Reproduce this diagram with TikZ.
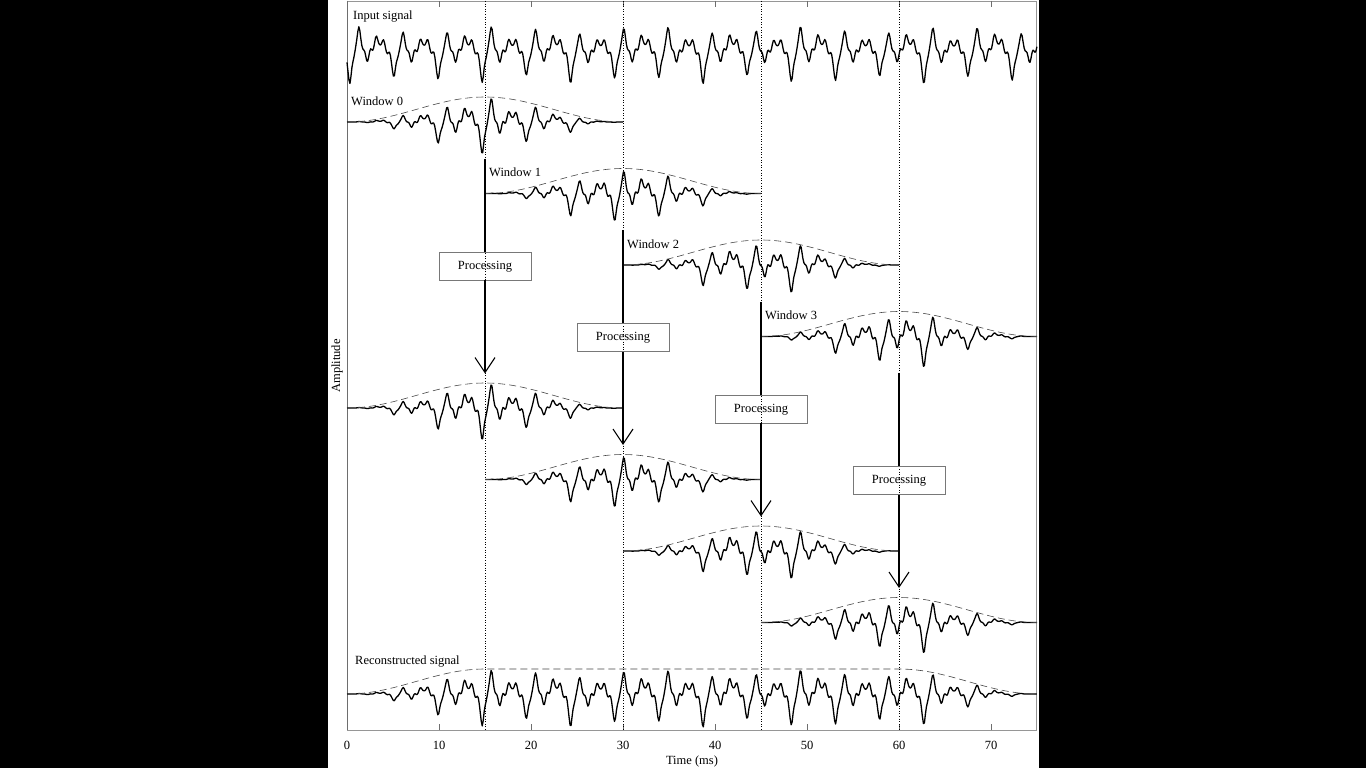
\documentclass[tikz,border=0pt]{standalone}
\usepackage{fontspec}
\setmainfont{Liberation Serif}
\usepackage{tikz}
\usetikzlibrary{arrows.meta, positioning, calc}
\definecolor{axisgray}{RGB}{150,150,150}
\definecolor{axisdark}{RGB}{110,110,110}
\definecolor{envgray}{RGB}{70,70,70}
\definecolor{boxgray}{RGB}{120,120,120}

\begin{document}
\begin{tikzpicture}[x=1pt, y=-1pt, >=Latex,
    declare function={
        lor(\xa,\xb)=1/(1+((\xa-round(\xa))/\xb)^2);
        ph(\xa)=(\xa-0.33)/4.8;
        fr(\xa)=ph(\xa)-floor(ph(\xa));
        sig(\xa)=-30*(1+0.15*sin(29*\xa+70))*lor(ph(\xa),0.05)+24*(1+0.15*sin(53*\xa))*lor(ph(\xa)-0.2,0.055)-10*lor(ph(\xa)-0.38,0.06)+13*(1+0.3*sin(37*\xa+40))*lor(ph(\xa)-0.6,0.06)+11*lor(ph(\xa)-0.75,0.05)+1.8*sin(2520*fr(\xa))+1.3*sin(3240*fr(\xa)+50)-1.7;
        hann(\xa,\xb)=sin(6*(\xa-\xb))^2;
        recw(\xa)=ifthenelse(\xa<15, sin(6*\xa)^2, ifthenelse(\xa>60, sin(6*(\xa-45))^2, 1));
    },
    wave/.style={line width=1.3pt, line join=round},
    envelope/.style={envgray, line width=0.6pt, dash pattern=on 7pt off 4pt},
    sigtext/.style={font=\fontsize{12.5}{15}\selectfont, inner sep=0pt},
    procbox/.style={draw=boxgray, line width=0.7pt, minimum width=92pt, minimum height=28pt, inner sep=0pt, text height=9pt, text depth=3pt, font=\fontsize{12.5}{15}\selectfont},
    flow/.style={line width=1.1pt},
]
    \fill[black] (0,0) rectangle (1366,768);
    \fill[white] (328,0) rectangle (1039,768);

    \draw[axisgray, line width=0.6pt] (347,1) rectangle (1036.7,730);
    \draw[axisdark, line width=0.7pt] (347,1) -- (347,730);
    \foreach \k in {0,...,7} {
        \draw[axisdark, line width=0.6pt] (347+92*\k,730) -- (347+92*\k,724);
        \draw[axisdark, line width=0.6pt] (347+92*\k,1) -- (347+92*\k,7);
        \node[sigtext] at (347+92*\k,745) {\pgfmathparse{int(10*\k)}\pgfmathresult};
    }
    \node[sigtext] at (692,761) {Time (ms)};
    \node[sigtext, rotate=90] at (337,366) {Amplitude};

    \draw[dotted, line width=0.6pt] (485,1) -- (485,730);
    \draw[dotted, line width=0.6pt] (623,1) -- (623,730);
    \draw[dotted, line width=0.6pt] (761,1) -- (761,730);
    \draw[dotted, line width=0.6pt] (899,1) -- (899,730);

    \draw[wave] plot[domain=0:75, samples=700] ({347+9.2*\x}, {50.5-sig(\x)});
    \node[sigtext, anchor=base west] at (353,20) {Input signal};

    \draw[wave] plot[domain=0:30, samples=300] ({347+9.2*\x}, {122-hann(\x,0)*sig(\x)});
    \draw[envelope] plot[domain=0:30, samples=60] ({347+9.2*\x}, {122-25*hann(\x,0)});
    \node[sigtext, anchor=base west] at (351,105) {Window 0};

    \draw[wave] plot[domain=15:45, samples=300] ({347+9.2*\x}, {193.5-hann(\x,15)*sig(\x)});
    \draw[envelope] plot[domain=15:45, samples=60] ({347+9.2*\x}, {193.5-25*hann(\x,15)});
    \node[sigtext, anchor=base west] at (489,176.5) {Window 1};

    \draw[wave] plot[domain=30:60, samples=300] ({347+9.2*\x}, {265-hann(\x,30)*sig(\x)});
    \draw[envelope] plot[domain=30:60, samples=60] ({347+9.2*\x}, {265-25*hann(\x,30)});
    \node[sigtext, anchor=base west] at (627,248) {Window 2};

    \draw[wave] plot[domain=45:75, samples=300] ({347+9.2*\x}, {336.5-hann(\x,45)*sig(\x)});
    \draw[envelope] plot[domain=45:75, samples=60] ({347+9.2*\x}, {336.5-25*hann(\x,45)});
    \node[sigtext, anchor=base west] at (765,319.5) {Window 3};

    \draw[wave] plot[domain=0:30, samples=300] ({347+9.2*\x}, {408-hann(\x,0)*sig(\x)});
    \draw[envelope] plot[domain=0:30, samples=60] ({347+9.2*\x}, {408-25*hann(\x,0)});

    \draw[wave] plot[domain=15:45, samples=300] ({347+9.2*\x}, {479.5-hann(\x,15)*sig(\x)});
    \draw[envelope] plot[domain=15:45, samples=60] ({347+9.2*\x}, {479.5-25*hann(\x,15)});

    \draw[wave] plot[domain=30:60, samples=300] ({347+9.2*\x}, {551-hann(\x,30)*sig(\x)});
    \draw[envelope] plot[domain=30:60, samples=60] ({347+9.2*\x}, {551-25*hann(\x,30)});

    \draw[wave] plot[domain=45:75, samples=300] ({347+9.2*\x}, {622.5-hann(\x,45)*sig(\x)});
    \draw[envelope] plot[domain=45:75, samples=60] ({347+9.2*\x}, {622.5-25*hann(\x,45)});

    \draw[wave] plot[domain=0:75, samples=700] ({347+9.2*\x}, {694-recw(\x)*sig(\x)});
    \draw[envelope] plot[domain=0:75, samples=150] ({347+9.2*\x}, {694-25*recw(\x)});
    \node[sigtext, anchor=base west] at (355,664) {Reconstructed signal};

    \coordinate (Src0) at (485,158.5);
    \coordinate (Tip0) at (485,373.5);
    \coordinate (Src1) at (623,230);
    \coordinate (Tip1) at (623,445);
    \coordinate (Src2) at (761,301.5);
    \coordinate (Tip2) at (761,516.5);
    \coordinate (Src3) at (899,373);
    \coordinate (Tip3) at (899,588);

    \node[procbox] (Proc0) at (485,266) {Processing};
    \node[procbox] (Proc1) at (623,337.5) {Processing};
    \node[procbox] (Proc2) at (761,409) {Processing};
    \node[procbox] (Proc3) at (899,480.5) {Processing};

    \draw[flow] (Src0) -- (Proc0);
    \draw[flow, -{Straight Barb[length=15pt, width=20pt, line width=1.1pt]}] (Proc0) -- (Tip0);
    \draw[flow] (Src1) -- (Proc1);
    \draw[flow, -{Straight Barb[length=15pt, width=20pt, line width=1.1pt]}] (Proc1) -- (Tip1);
    \draw[flow] (Src2) -- (Proc2);
    \draw[flow, -{Straight Barb[length=15pt, width=20pt, line width=1.1pt]}] (Proc2) -- (Tip2);
    \draw[flow] (Src3) -- (Proc3);
    \draw[flow, -{Straight Barb[length=15pt, width=20pt, line width=1.1pt]}] (Proc3) -- (Tip3);
\end{tikzpicture}
\end{document}
